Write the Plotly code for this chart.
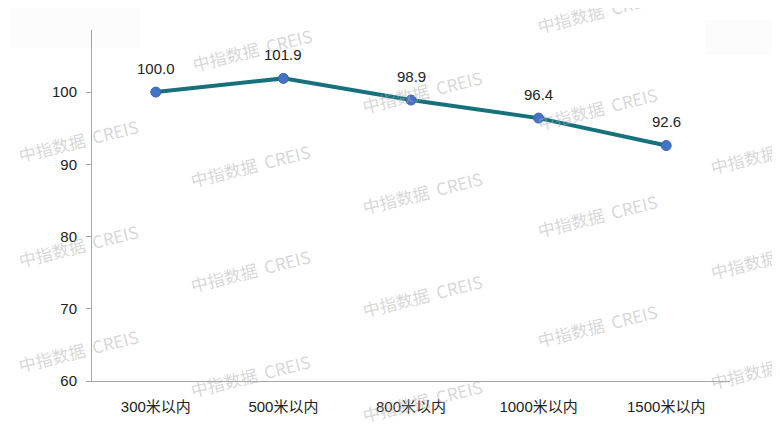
import plotly.graph_objects as go

categories = ["300米以内", "500米以内", "800米以内", "1000米以内", "1500米以内"]
values = [100.0, 101.9, 98.9, 96.4, 92.6]
y_ticks = [60, 70, 80, 90, 100]

wm_text = "中指数据  CREIS"
wm_pos = [(78, 140), (78, 245), (78, 350),
          (252, 50), (250, 165), (250, 270), (250, 375),
          (422, 92), (422, 192), (422, 295), (422, 400),
          (597, 12), (597, 108), (597, 215), (597, 325),
          (770, 152), (770, 257), (770, 367)]

# page body has an 8px margin; plot area in reference: x 92..730, y 30..381
OFF = 8
W, H = 764, 421
L, T = 92 - OFF, 30 - OFF
R = W - (730 - OFF)
B = H - (381 - OFF)
PW, PH = 730 - 92, 381 - 30

fig = go.Figure()
fig.add_trace(go.Scatter(
    x=categories, y=values, mode="lines+markers",
    line=dict(color="#16717b", width=4),
    marker=dict(color="#4472c4", size=10, line=dict(color="#3a64b0", width=1)),
    cliponaxis=False, showlegend=False,
))

annotations = []
for (px, py) in wm_pos:
    annotations.append(dict(
        text=wm_text, xref="paper", yref="paper",
        x=(px - 92) / PW, y=(381 - py) / PH,
        xanchor="center", yanchor="middle",
        showarrow=False, textangle=-14,
        font=dict(family="Noto Sans CJK SC", size=17, color="rgba(175,175,175,0.5)"),
    ))
for c, v in zip(categories, values):
    annotations.append(dict(
        text=f"{v:.1f}", x=c, y=v, xref="x", yref="y",
        showarrow=False, yshift=24,
        font=dict(family="Liberation Sans, Arial", size=15, color="#222222"),
    ))

shapes = [
    dict(type="rect", xref="paper", yref="paper", layer="below",
         x0=(10 - 92) / PW, x1=(140 - 92) / PW, y0=(381 - 48) / PH, y1=(381 - 5) / PH,
         fillcolor="#fcfcfc", line=dict(width=0)),
    dict(type="rect", xref="paper", yref="paper", layer="below",
         x0=(705 - 92) / PW, x1=(780 - 92) / PW, y0=(381 - 55) / PH, y1=(381 - 20) / PH,
         fillcolor="#fcfcfc", line=dict(width=0)),
]

fig.update_layout(
    width=W, height=H,
    margin=dict(l=L, r=R, t=T, b=B, pad=0),
    paper_bgcolor="white", plot_bgcolor="white",
    font=dict(family="Liberation Sans, Noto Sans CJK SC", size=15, color="#222222"),
    xaxis=dict(
        type="category", showgrid=False, zeroline=False,
        showline=True, linecolor="#a6a6a6", linewidth=1,
        ticks="", ticklabelstandoff=12,
        tickfont=dict(family="Liberation Sans, Noto Sans CJK SC", size=15, color="#222222"),
        range=[-0.5, 4.5],
    ),
    yaxis=dict(
        range=[60, 108.6], tickvals=y_ticks, showgrid=False, zeroline=False,
        showline=True, linecolor="#a6a6a6", linewidth=1,
        ticks="outside", ticklen=5, tickcolor="#a6a6a6", ticklabelstandoff=6,
        tickfont=dict(family="Liberation Sans", size=15, color="#222222"),
    ),
    annotations=annotations,
    shapes=shapes,
)

fig.write_html("out.html")
